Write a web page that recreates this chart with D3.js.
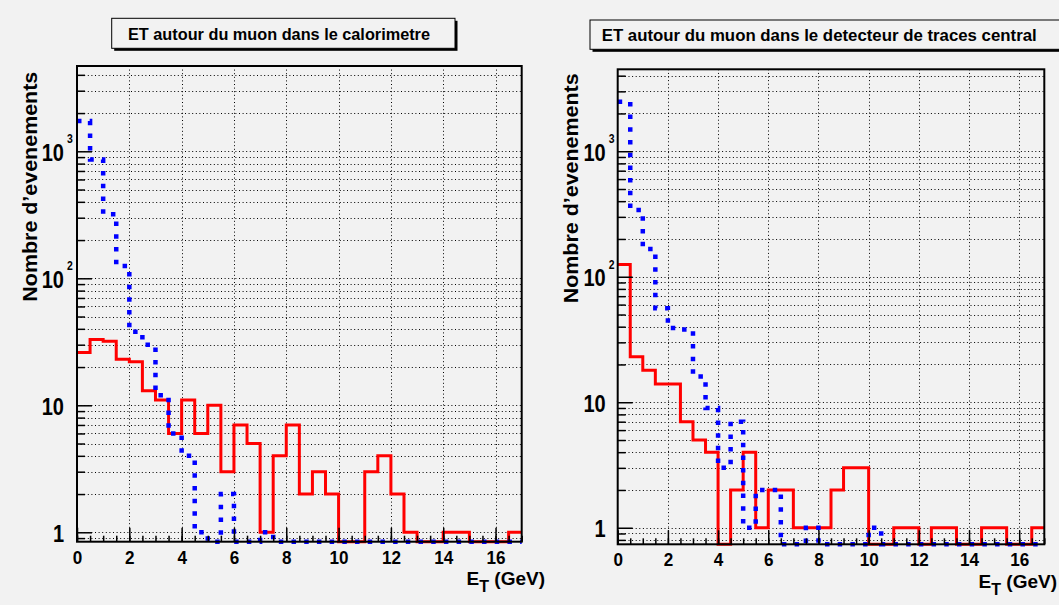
<!DOCTYPE html>
<html lang="fr">
<head>
<meta charset="utf-8">
<title>ET autour du muon</title>
<script src="https://cdn.jsdelivr.net/npm/d3@7"></script>
<style>
  body { margin: 0; background: #f2f2f2; }
  svg { display: block; }
  text { font-family: 'Liberation Sans', Arial, Helvetica, sans-serif; font-weight: bold; fill: #000; }
</style>
</head>
<body>
<svg></svg>
<script>

// histogram bins: low edges, width 0.5 GeV
const bin_low = [0, 0.5, 1, 1.5, 2, 2.5, 3, 3.5, 4, 4.5, 5, 5.5, 6, 6.5, 7, 7.5, 8, 8.5,
                 9, 9.5, 10, 10.5, 11, 11.5, 12, 12.5, 13, 13.5, 14, 14.5, 15, 15.5, 16, 16.5];
const x_ticks = [0, 2, 4, 6, 8, 10, 12, 14, 16];
const y_ticks = [1, 10, 100, 1000];

// calorimetre
const calo_red  = [26, 33, 32, 23, 22, 13, 11, 6, 11, 6, 10, 3, 7, 5, 1, 4, 7, 2,
                   3, 2, 0, 0, 3, 4, 2, 1, 0, 0, 1, 1, 0, 0, 0, 1];
const calo_blue = [1730, 860, 320, 125, 38, 30, 12, 6, 4, 1, 0, 2, 0, 0, 1, 0, 0, 0,
                   0, 0, 0, 0, 0, 0, 0, 0, 0, 0, 0, 0, 0, 0, 0, 0];

// detecteur de traces central
const trk_red  = [125, 23, 18, 14, 14, 7, 5, 4, 0, 2, 4, 1, 2, 2, 1, 1, 1, 2,
                  3, 3, 0, 0, 1, 1, 0, 1, 1, 0, 0, 1, 1, 0, 0, 1];
const trk_blue = [2480, 340, 166, 56, 39, 38, 16, 9, 3, 7, 1, 2, 2, 0, 0, 1, 0, 0,
                  0, 0, 1, 0, 0, 0, 0, 0, 0, 0, 0, 0, 0, 0, 0, 0];

const titles = ['ET autour du muon dans le calorimetre',
                'ET autour du muon dans le detecteur de traces central'];
const y_title = 'Nombre d\u2019evenements';

const W = 1059, H = 605;

let panels = [
    { title: titles[0], red: calo_red, blue: calo_blue,
      frame: { left: 77, right: 521.7, top: 66, bottom: 541.7 }, y_range: [0.843, 4695],
      box: { x: 111.7, y: 18.3, w: 343.3, h: 30 }, title_pos: [128, 40, 302],
      ytitle: [36.7, 71.7], xtitle: [545, 584.5], lab_dx: -13 },
    { title: titles[1], red: trk_red, blue: trk_blue,
      frame: { left: 617.7, right: 1044.3, top: 69.3, bottom: 544.3 }, y_range: [0.738, 4496],
      box: { x: 590, y: 20, w: 480, h: 29.3 }, title_pos: [601.7, 41, 435],
      ytitle: [578.3, 73.3], xtitle: [1057, 587.5], lab_dx: -12 }
];

let svg = d3.select('svg')
    .attr('width', W)
    .attr('height', H);

svg.append('rect')
    .attr('width', W)
    .attr('height', H)
    .attr('fill', '#f2f2f2');

panels.forEach(drawPanel);

function drawPanel(p) {

    let f = p.frame;
    let x = d3.scaleLinear().domain([0, 17]).range([f.left, f.right]);
    let y = d3.scaleLog().domain(p.y_range).range([f.bottom, f.top]);

    // title box with shadow
    svg.append('rect')
        .attr('x', p.box.x + 2.5).attr('y', p.box.y + 2.5)
        .attr('width', p.box.w).attr('height', p.box.h)
        .attr('fill', '#000');
    svg.append('rect')
        .attr('x', p.box.x).attr('y', p.box.y)
        .attr('width', p.box.w).attr('height', p.box.h)
        .attr('fill', '#f2f2f2')
        .attr('stroke', '#000')
        .attr('stroke-width', 1);
    svg.append('text')
        .attr('x', p.title_pos[0])
        .attr('y', p.title_pos[1])
        .attr('textLength', p.title_pos[2])
        .attr('lengthAdjust', 'spacingAndGlyphs')
        .style('font-size', '16px')
        .text(p.title);

    // grid
    let grid = svg.append('g')
        .attr('stroke', '#000')
        .attr('stroke-width', 1)
        .attr('stroke-dasharray', '1,2.6');
    grid.selectAll('.hgrid')
        .data(y.ticks())
        .enter()
        .append('line')
        .attr('x1', f.left).attr('x2', f.right)
        .attr('y1', d => Math.round(y(d)) + 0.5)
        .attr('y2', d => Math.round(y(d)) + 0.5);
    grid.selectAll('.vgrid')
        .data(x_ticks.slice(1))
        .enter()
        .append('line')
        .attr('x1', d => Math.round(x(d)) + 0.5)
        .attr('x2', d => Math.round(x(d)) + 0.5)
        .attr('y1', f.top).attr('y2', f.bottom);

    // histograms, empty bins sit on the bottom of the frame
    let step = d3.line()
        .x(d => x(d[0]))
        .y(d => d[1] > 0 ? y(d[1]) : f.bottom)
        .curve(d3.curveStepAfter);

    function histPoints(vals) {
        let pts = bin_low.map((b, i) => [b, vals[i]]);
        pts.push([x.domain()[1], vals[vals.length - 1]]);
        return pts;
    }

    svg.append('path')
        .datum(histPoints(p.red))
        .attr('d', step)
        .attr('fill', 'none')
        .attr('stroke', '#ff0000')
        .attr('stroke-width', 3);

    svg.append('path')
        .datum(histPoints(p.blue))
        .attr('d', step)
        .attr('fill', 'none')
        .attr('stroke', '#0000ff')
        .attr('stroke-width', 4.5)
        .attr('stroke-dasharray', '4.5,8.2');

    // x axis: minor ticks then major ticks with labels
    svg.append('g')
        .attr('transform', `translate(0,${f.bottom})`)
        .call(d3.axisBottom(x).ticks(34).tickSize(-6).tickFormat(''))
        .call(g => g.select('.domain').remove())
        .selectAll('line').attr('stroke-width', 1.5);

    let xa = svg.append('g')
        .attr('transform', `translate(0,${f.bottom})`)
        .call(d3.axisBottom(x).tickValues(x_ticks).tickSize(-14).tickFormat(d3.format('d')));
    xa.select('.domain').remove();
    xa.selectAll('line').attr('stroke-width', 1.5);
    xa.selectAll('text')
        .attr('y', null)
        .attr('dy', null)
        .attr('fill', '#000')
        .attr('transform', 'translate(0,22) scale(0.9,1)')
        .style('font-size', '19px');

    // y axis: minor ticks then decades
    svg.append('g')
        .attr('transform', `translate(${f.left},0)`)
        .call(d3.axisLeft(y).tickValues(y.ticks().filter(d => y_ticks.indexOf(d) < 0)).tickSize(-8).tickFormat(''))
        .call(g => g.select('.domain').remove())
        .selectAll('line').attr('stroke-width', 1.5);

    let ya = svg.append('g')
        .attr('transform', `translate(${f.left},0)`)
        .call(d3.axisLeft(y).tickValues(y_ticks).tickSize(-15)
            .tickFormat(d => d >= 100 ? '10' : d3.format('d')(d)));
    ya.select('.domain').remove();
    ya.selectAll('line').attr('stroke-width', 1.5);
    ya.selectAll('text')
        .attr('x', null)
        .attr('dy', null)
        .attr('fill', '#000')
        .attr('transform', `translate(${p.lab_dx},9) scale(0.87,1)`)
        .style('font-size', '23px');
    ya.selectAll('.tick')
        .filter(d => d >= 100)
        .append('text')
        .attr('text-anchor', 'start')
        .attr('transform', `translate(${p.lab_dx + 3},-8.5) scale(0.87,1)`)
        .style('font-size', '12px')
        .text(d => Math.round(Math.log10(d)));

    // frame
    svg.append('rect')
        .attr('x', f.left).attr('y', f.top)
        .attr('width', f.right - f.left)
        .attr('height', f.bottom - f.top)
        .attr('fill', 'none')
        .attr('stroke', '#000')
        .attr('stroke-width', 2);

    // axis titles
    svg.append('text')
        .attr('text-anchor', 'end')
        .attr('transform', `translate(${p.ytitle[0]},${p.ytitle[1]})rotate(-90)`)
        .attr('textLength', 230)
        .attr('lengthAdjust', 'spacingAndGlyphs')
        .style('font-size', '21px')
        .text(y_title);

    let xt = svg.append('text')
        .attr('x', p.xtitle[0])
        .attr('y', p.xtitle[1])
        .attr('text-anchor', 'end')
        .style('font-size', '19px');
    xt.append('tspan').text('E');
    xt.append('tspan').attr('dy', 7).style('font-size', '16px').text('T');
    xt.append('tspan').attr('dy', -7).text(' (GeV)');
}

</script>
</body>
</html>
